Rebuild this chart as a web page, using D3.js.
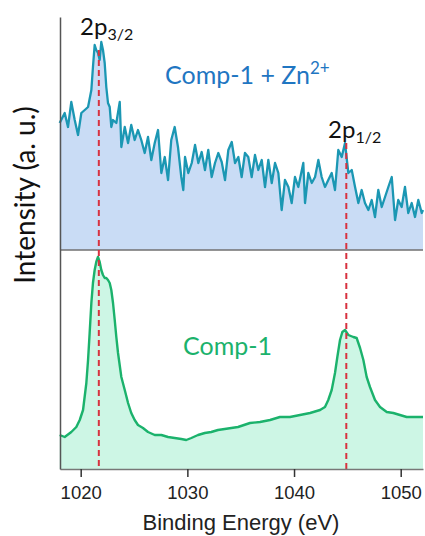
<!DOCTYPE html>
<html>
<head>
<meta charset="utf-8">
<script src="https://cdn.jsdelivr.net/npm/d3@7/dist/d3.min.js"></script>
<style>
  body { margin: 0; background: #fff; }
  svg { display: block; }
</style>
</head>
<body>
<script>

// Comp-1 + Zn2+ (top trace)
let energyTop = [1018.03, 1018.50, 1018.81, 1019.12, 1019.44, 1019.75, 1020.06, 1020.38, 1020.69, 1021.00,
  1021.15, 1021.31, 1021.46, 1021.62, 1021.78, 1021.93, 1022.09, 1022.25, 1022.40, 1022.56,
  1022.72, 1022.87, 1023.03, 1023.34, 1023.66, 1023.81, 1024.13, 1024.44, 1024.74, 1025.06,
  1025.37, 1025.68, 1026.00, 1026.31, 1026.62, 1026.94, 1027.25, 1027.56, 1027.88, 1028.19,
  1028.49, 1028.81, 1029.12, 1029.43, 1029.62, 1029.78, 1030.09, 1030.41, 1030.72, 1031.03,
  1031.34, 1031.65, 1031.96, 1032.28, 1032.59, 1032.90, 1033.22, 1033.53, 1033.84, 1034.16,
  1034.47, 1034.78, 1035.09, 1035.40, 1035.71, 1036.03, 1036.34, 1036.65, 1036.97, 1037.28,
  1037.59, 1037.91, 1038.22, 1038.53, 1038.84, 1039.15, 1039.47, 1039.78, 1040.09, 1040.40,
  1040.87, 1041.03, 1041.34, 1041.66, 1041.97, 1042.28, 1042.59, 1042.90, 1043.21, 1043.53,
  1043.84, 1044.15, 1044.47, 1044.78, 1045.09, 1045.41, 1045.72, 1046.03, 1046.34, 1046.65,
  1046.97, 1047.28, 1047.59, 1047.90, 1048.22, 1048.53, 1048.84, 1049.16, 1049.47, 1049.77,
  1050.09, 1050.40, 1050.71, 1051.03, 1051.34, 1051.65, 1051.97, 1052.09];
let intensityTop = [127, 137, 123, 148, 130, 115, 137, 140, 143, 160,
  183, 205, 200, 197, 190, 208, 200, 187, 163, 147,
  143, 123, 130, 127, 148, 103, 123, 107, 125, 110,
  120, 110, 97, 113, 90, 107, 120, 77, 93, 70,
  110, 123, 103, 73, 60, 93, 77, 87, 105, 87,
  98, 80, 100, 73, 87, 97, 88, 70, 100, 108,
  87, 93, 73, 97, 93, 73, 95, 80, 90, 63,
  90, 67, 87, 77, 40, 70, 63, 47, 73, 63,
  87, 47, 77, 67, 73, 90, 73, 63, 70, 77,
  60, 100, 93, 107, 77, 80, 63, 47, 60, 47,
  40, 50, 33, 60, 43, 53, 63, 73, 30, 50,
  43, 63, 37, 47, 33, 50, 37, 40];

// Comp-1 (bottom trace)
let energyBottom = [1018.03, 1018.50, 1019.12, 1019.59, 1019.91, 1020.22, 1020.53, 1020.69, 1020.84, 1021.00,
  1021.15, 1021.31, 1021.46, 1021.62, 1021.78, 1021.93, 1022.09, 1022.25, 1022.40, 1022.56,
  1022.72, 1022.87, 1023.03, 1023.19, 1023.34, 1023.50, 1023.81, 1024.13, 1024.44, 1024.74,
  1025.06, 1025.37, 1025.84, 1026.31, 1026.94, 1027.56, 1028.19, 1028.81, 1029.43, 1029.90,
  1030.37, 1031.00, 1031.63, 1032.24, 1032.87, 1033.50, 1034.12, 1034.75, 1035.87, 1036.81,
  1037.75, 1038.68, 1039.62, 1040.56, 1041.50, 1042.44, 1042.90, 1043.21, 1043.53, 1043.84,
  1044.06, 1044.31, 1044.53, 1044.78, 1045.09, 1045.56, 1045.87, 1046.19, 1046.50, 1046.81,
  1047.12, 1047.59, 1048.06, 1048.69, 1049.31, 1049.93, 1050.56, 1051.18, 1051.97, 1052.09];
let intensityBottom = [34, 32, 37, 42, 49, 59, 86, 109, 136, 166,
  186, 199, 207, 212, 207, 199, 194, 191, 191, 189,
  186, 179, 166, 149, 132, 116, 92, 79, 66, 56,
  49, 44, 41, 37, 34, 34, 32, 31, 30, 29,
  31, 34, 36, 37, 39, 40, 41, 42, 46, 47,
  49, 52, 52, 54, 56, 59, 62, 69, 79, 96,
  112, 129, 137, 139, 134, 132, 131, 121, 109, 92,
  82, 69, 62, 57, 56, 54, 52, 52, 52, 52];

let peakEnergies = [1021.7, 1044.9];
let peakHeightsTop = [200, 107];
let xTicks = [1020, 1030, 1040, 1050];

init();

function init() {
  let svg = d3.select("body")
              .append("svg")
              .attr("width", 425)
              .attr("height", 536);

  let x = d3.scaleLinear().domain([1018.06, 1052.09]).range([60, 423]);
  let yTop = d3.scaleLinear().domain([0, 233]).range([250, 17]);
  let yBottom = d3.scaleLinear().domain([0, 219]).range([469, 250]);

  let top = d3.zip(energyTop, intensityTop).map(d => ({e: d[0], v: d[1]}));
  let bottom = d3.zip(energyBottom, intensityBottom).map(d => ({e: d[0], v: d[1]}));

  // fills
  svg.append("path")
     .datum(top)
     .attr("fill", "#c9dcf5")
     .attr("d", d3.area().x(d => x(d.e)).y0(yTop(0)).y1(d => yTop(d.v)));

  svg.append("path")
     .datum(bottom)
     .attr("fill", "#cdf6e5")
     .attr("d", d3.area().x(d => x(d.e)).y0(yBottom(0)).y1(d => yBottom(d.v)));

  // panel separator
  svg.append("line")
     .attr("x1", x.range()[0])
     .attr("x2", x.range()[1])
     .attr("y1", yTop(0))
     .attr("y2", yTop(0))
     .attr("stroke", "#707070")
     .attr("stroke-width", 1.5);

  // lines
  svg.append("path")
     .datum(top)
     .attr("fill", "none")
     .attr("stroke", "#1b97b3")
     .attr("stroke-width", 2.3)
     .attr("stroke-linejoin", "round")
     .attr("d", d3.line().x(d => x(d.e)).y(d => yTop(d.v)));

  svg.append("path")
     .datum(bottom)
     .attr("fill", "none")
     .attr("stroke", "#1bb26c")
     .attr("stroke-width", 2.4)
     .attr("stroke-linejoin", "round")
     .attr("d", d3.line().x(d => x(d.e)).y(d => yBottom(d.v)));

  // peak markers
  svg.selectAll(".peak")
     .data(peakEnergies)
     .enter()
     .append("line")
     .attr("class", "peak")
     .attr("x1", d => x(d))
     .attr("x2", d => x(d))
     .attr("y1", (d, i) => yTop(peakHeightsTop[i]))
     .attr("y2", yBottom(0))
     .attr("stroke", "#d8323f")
     .attr("stroke-width", 2)
     .attr("stroke-dasharray", "6,4");

  // axes
  let xAxis = svg.append("g")
     .attr("transform", "translate(0," + yBottom(0) + ")")
     .call(d3.axisBottom(x).tickValues(xTicks).tickSize(8).tickSizeOuter(0).tickPadding(9).tickFormat(d3.format("d")));
  xAxis.select(".domain").attr("stroke", "#777").attr("stroke-width", 1.5);
  xAxis.selectAll(".tick line").attr("stroke", "#333").attr("stroke-width", 1.5);
  xAxis.selectAll(".tick text")
       .attr("fill", "#222")
       .style("font-family", "'Liberation Sans', Arial, sans-serif")
       .style("font-size", "18.5px");

  let yAxis = svg.append("g")
     .attr("transform", "translate(" + x.range()[0] + ",0)")
     .call(d3.axisLeft(d3.scaleLinear().range([yBottom(0), yTop.range()[1]])).tickValues([]).tickSizeOuter(0));
  yAxis.select(".domain").attr("stroke", "#555").attr("stroke-width", 1.5);

  svg.append("text")
     .attr("x", 241)
     .attr("y", 530)
     .attr("text-anchor", "middle")
     .attr("fill", "#222")
     .style("font-family", "'Liberation Sans', Arial, sans-serif")
     .style("font-size", "22px")
     .text("Binding Energy (eV)");

  svg.append("text")
     .attr("transform", "translate(35,195) rotate(-90)")
     .attr("text-anchor", "middle")
     .attr("fill", "#111")
     .style("font-family", "Lato, sans-serif")
     .style("font-size", "28px")
     .text("Intensity (a. u.)");

  // labels
  let label = (px, py, main, sub, subDy) => {
    let t = svg.append("text")
               .attr("x", px)
               .attr("y", py)
               .attr("fill", "#111")
               .style("font-family", "Lato, sans-serif")
               .style("font-size", "24px");
    t.append("tspan").text(main);
    t.append("tspan").attr("dy", subDy).style("font-size", "16px").text(sub);
  };
  label(80, 35, "2p", "3/2", 5);
  label(328, 138, "2p", "1/2", 5);

  let zn = svg.append("text")
     .attr("x", 165)
     .attr("y", 84)
     .attr("fill", "#1f76c2")
     .style("font-family", "Lato, sans-serif")
     .style("font-size", "25px");
  zn.append("tspan").text("Comp-1 + Zn");
  zn.append("tspan").attr("dy", -10).style("font-size", "17px").text("2+");

  svg.append("text")
     .attr("x", 183)
     .attr("y", 355)
     .attr("fill", "#1bb26c")
     .style("font-family", "Lato, sans-serif")
     .style("font-size", "25px")
     .text("Comp-1");
}
</script>
</body>
</html>
